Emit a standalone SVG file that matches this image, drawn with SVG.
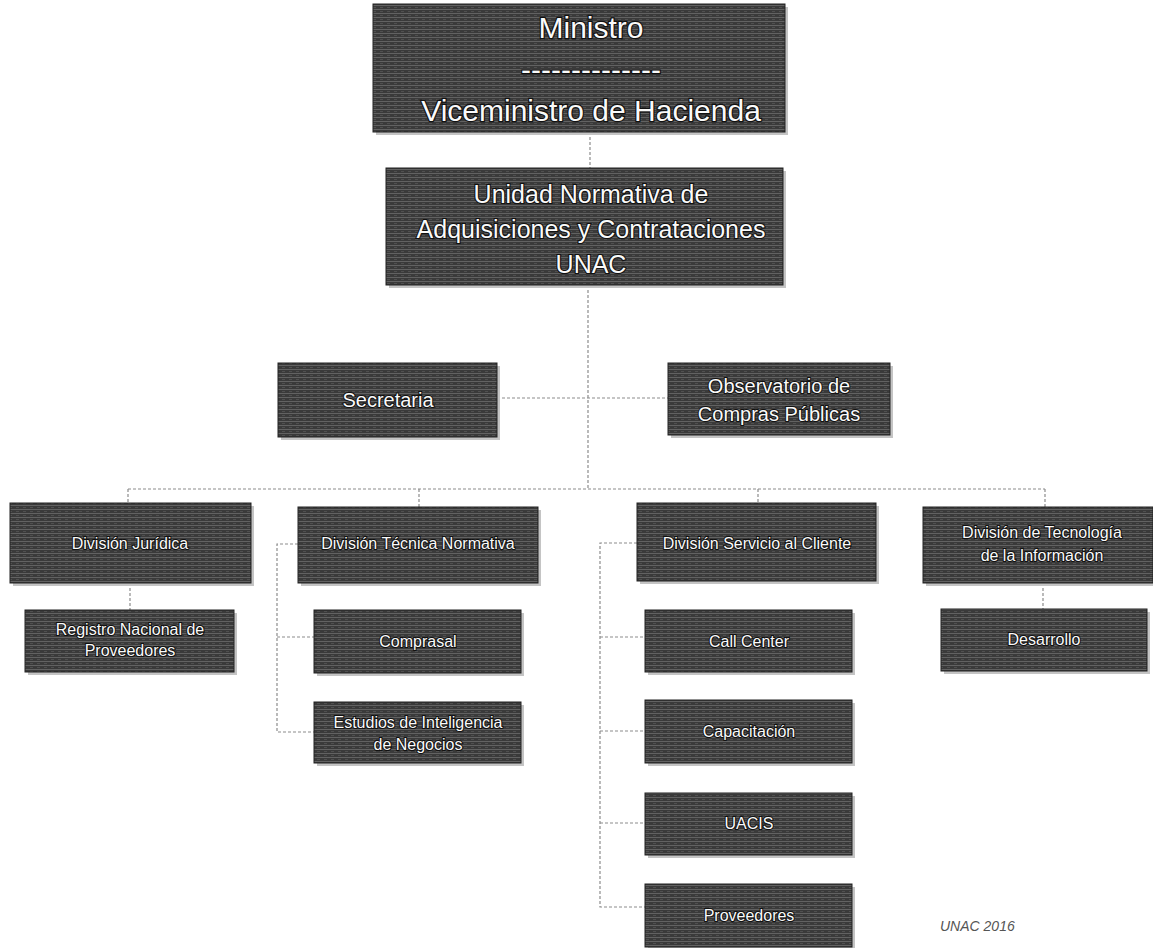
<svg xmlns="http://www.w3.org/2000/svg" width="1153" height="948" viewBox="0 0 1153 948">
<defs>
<pattern id="tex" width="7" height="4" patternUnits="userSpaceOnUse">
<rect width="7" height="4" fill="#3a3a3a"/>
<rect y="1" width="7" height="1" fill="#626262"/>
<rect x="2" y="3" width="3" height="1" fill="#505050"/>
</pattern>
<style>
.box{fill:url(#tex);stroke:#222;stroke-width:1}
.sh{fill:#c4c4c4}
.t{font-family:"Liberation Sans",Arial,sans-serif;fill:#fafafa;stroke:#111;stroke-width:2;paint-order:stroke;text-anchor:middle}
.big{font-size:30px;stroke-width:2.4}
.mid{font-size:25px;stroke-width:2.2}
.m2{font-size:20px}
.sm{font-size:16px}
.con{fill:none;stroke:#8c8c8c;stroke-width:1.2;stroke-dasharray:3 2}
.foot{font-family:"Liberation Sans",Arial,sans-serif;font-style:italic;font-size:14px;fill:#555}
</style>
</defs>
<rect width="1153" height="948" fill="#fff"/>
<g id="connectors">
<path class="con" d="M590 132 V168"/>
<path class="con" d="M588 285 V489"/>
<path class="con" d="M497 398 H668"/>
<path class="con" d="M128 489 H1045"/>
<path class="con" d="M128 489 V503"/>
<path class="con" d="M419 489 V507"/>
<path class="con" d="M758 489 V503"/>
<path class="con" d="M1045 489 V507"/>
<path class="con" d="M130 583 V610"/>
<path class="con" d="M298 544 H277 V732 H314 M277 637 H314"/>
<path class="con" d="M637 543 H600 V907 H645 M600 637 H645 M600 731 H645 M600 823 H645"/>
<path class="con" d="M1043 583 V609"/>
</g>
<g id="ministro">
<rect class="sh" x="376" y="7" width="412" height="128"/>
<rect class="box" x="373" y="4" width="412" height="128"/>
<text class="t big" x="591" y="38">Ministro</text>
<text class="t big" x="591" y="80">--------------</text>
<text class="t big" x="591" y="121">Viceministro de Hacienda</text>
</g>
<g id="unac">
<rect class="sh" x="389" y="171" width="397" height="117"/>
<rect class="box" x="386" y="168" width="397" height="117"/>
<text class="t mid" x="591" y="203">Unidad Normativa de</text>
<text class="t mid" x="591" y="238">Adquisiciones y Contrataciones</text>
<text class="t mid" x="591" y="273">UNAC</text>
</g>
<g id="secretaria">
<rect class="sh" x="281" y="366" width="219" height="74"/>
<rect class="box" x="278" y="363" width="219" height="74"/>
<text class="t m2" x="388" y="407">Secretaria</text>
</g>
<g id="observatorio">
<rect class="sh" x="671" y="366" width="222" height="72"/>
<rect class="box" x="668" y="363" width="222" height="72"/>
<text class="t m2" x="779" y="393">Observatorio de</text>
<text class="t m2" x="779" y="421">Compras Públicas</text>
</g>
<g id="juridica">
<rect class="sh" x="13" y="506" width="241" height="80"/>
<rect class="box" x="10" y="503" width="241" height="80"/>
<text class="t sm" x="130" y="549">División Jurídica</text>
</g>
<g id="registro">
<rect class="sh" x="28" y="613" width="209" height="62"/>
<rect class="box" x="25" y="610" width="209" height="62"/>
<text class="t sm" x="130" y="635">Registro Nacional de</text>
<text class="t sm" x="130" y="656">Proveedores</text>
</g>
<g id="tecnica">
<rect class="sh" x="301" y="510" width="240" height="76"/>
<rect class="box" x="298" y="507" width="240" height="76"/>
<text class="t sm" x="418" y="549">División Técnica Normativa</text>
</g>
<g id="comprasal">
<rect class="sh" x="317" y="613" width="207" height="63"/>
<rect class="box" x="314" y="610" width="207" height="63"/>
<text class="t sm" x="418" y="647">Comprasal</text>
</g>
<g id="estudios">
<rect class="sh" x="317" y="705" width="207" height="61"/>
<rect class="box" x="314" y="702" width="207" height="61"/>
<text class="t sm" x="418" y="728">Estudios de Inteligencia</text>
<text class="t sm" x="418" y="750">de Negocios</text>
</g>
<g id="servicio">
<rect class="sh" x="640" y="506" width="239" height="78"/>
<rect class="box" x="637" y="503" width="239" height="78"/>
<text class="t sm" x="757" y="549">División Servicio al Cliente</text>
</g>
<g id="callcenter">
<rect class="sh" x="648" y="613" width="207" height="62"/>
<rect class="box" x="645" y="610" width="207" height="62"/>
<text class="t sm" x="749" y="647">Call Center</text>
</g>
<g id="capacitacion">
<rect class="sh" x="648" y="703" width="207" height="63"/>
<rect class="box" x="645" y="700" width="207" height="63"/>
<text class="t sm" x="749" y="737">Capacitación</text>
</g>
<g id="uacis">
<rect class="sh" x="648" y="796" width="207" height="62"/>
<rect class="box" x="645" y="793" width="207" height="62"/>
<text class="t sm" x="749" y="829">UACIS</text>
</g>
<g id="proveedores">
<rect class="sh" x="648" y="887" width="207" height="63"/>
<rect class="box" x="645" y="884" width="207" height="63"/>
<text class="t sm" x="749" y="921">Proveedores</text>
</g>
<g id="tecnologia">
<rect class="sh" x="926" y="510" width="230" height="76"/>
<rect class="box" x="923" y="507" width="230" height="76"/>
<text class="t sm" x="1042" y="538">División de Tecnología</text>
<text class="t sm" x="1042" y="561">de la Información</text>
</g>
<g id="desarrollo">
<rect class="sh" x="944" y="612" width="206" height="62"/>
<rect class="box" x="941" y="609" width="206" height="62"/>
<text class="t sm" x="1044" y="645">Desarrollo</text>
</g>
<text class="foot" x="940" y="931">UNAC 2016</text>
</svg>
